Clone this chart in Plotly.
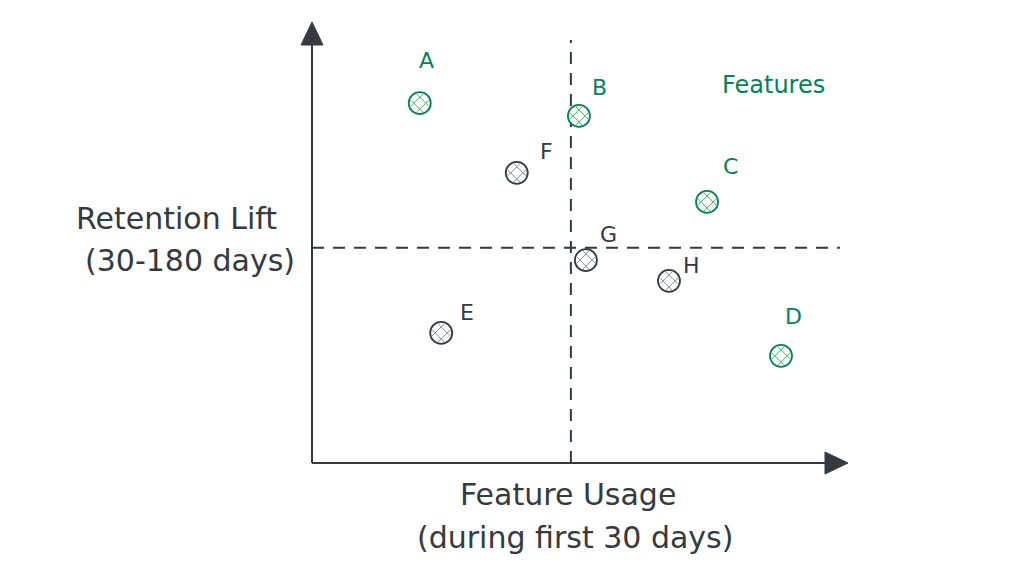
import plotly.graph_objects as go

# %% data (axis units 0-10)
features = ["A", "B", "C", "D", "E", "F", "G", "H"]
usage = [2.01, 4.98, 7.37, 8.75, 2.41, 3.82, 5.11, 6.66]
retention = [8.16, 7.87, 5.92, 2.43, 2.95, 6.58, 4.60, 4.13]
highlighted = [True, True, True, True, False, False, False, False]

usage_split = 4.83
retention_split = 4.88

x_title = ["Feature Usage", "(during first 30 days)"]
y_title = ["Retention Lift", "(30-180 days)"]
legend_text = "Features"

# %% styles
INK = "#343a40"
GREEN = "#087f5b"
GREEN_HATCH = "#40c057"
GRAY_HATCH = "#868e96"
FONT = "DejaVu Sans"

# label offsets in pixels (dx, dy up)
label_offsets = [(7, 43), (21, 28), (23, 35), (12, 39), (26, 20), (30, 21), (23, 26), (23, 15)]

# page has an 8px body margin, so the figure is a bit smaller than the window
PAGE = 8
W, H = 1016, 580
L, R, T, B = 304, 176, 14, 125


def px_to_paper(px, py):
    # screen pixel -> paper fraction of the plot area
    x0, x1 = PAGE + L, PAGE + W - R
    y0, y1 = PAGE + T, PAGE + H - B
    return (px - x0) / (x1 - x0), (y1 - py) / (y1 - y0)


fig = go.Figure()

# quadrant dashed lines
fig.add_trace(go.Scatter(x=[usage_split, usage_split], y=[0, 9.59], mode="lines",
                         line=dict(color=INK, width=2, dash="12px,9px"), hoverinfo="skip"))
fig.add_trace(go.Scatter(x=[0, 9.85], y=[retention_split, retention_split], mode="lines",
                         line=dict(color=INK, width=2, dash="12px,9px"), hoverinfo="skip"))

# points: outlined circle + rotated hash to mimic the hatch fill
for flag, line_c, hatch_c in [(True, GREEN, GREEN_HATCH), (False, INK, GRAY_HATCH)]:
    xs = [u for u, h in zip(usage, highlighted) if h == flag]
    ys = [r for r, h in zip(retention, highlighted) if h == flag]
    fig.add_trace(go.Scatter(x=xs, y=ys, mode="markers",
                             marker=dict(symbol="circle", size=22, color="white",
                                         line=dict(color=line_c, width=1.8)),
                             hoverinfo="skip"))
    fig.add_trace(go.Scatter(x=xs, y=ys, mode="markers",
                             marker=dict(symbol="hash-open", size=17, angle=45, color=hatch_c,
                                         line=dict(color=hatch_c, width=1)),
                             hoverinfo="skip"))

# point labels
for name, u, r, flag, (dx, dy) in zip(features, usage, retention, highlighted, label_offsets):
    fig.add_annotation(x=u, y=r, text=name, showarrow=False, xshift=dx, yshift=dy,
                       font=dict(family=FONT, size=22, color=GREEN if flag else INK))

# axes with arrow heads (paper refs so nothing gets clipped)
fig.add_shape(type="line", xref="paper", yref="paper", x0=0, y0=0, x1=0, y1=0.97,
              line=dict(color=INK, width=2))
fig.add_shape(type="line", xref="paper", yref="paper", x0=0, y0=0, x1=0.97, y1=0,
              line=dict(color=INK, width=2))
fig.add_shape(type="path", xref="paper", yref="paper", xsizemode="pixel", ysizemode="pixel",
              xanchor=0, yanchor=1, path="M -11,-23 L 11,-23 L 0,0 Z",
              fillcolor=INK, line=dict(color=INK, width=1))
fig.add_shape(type="path", xref="paper", yref="paper", xsizemode="pixel", ysizemode="pixel",
              xanchor=1, yanchor=0, path="M -23,-11 L -23,11 L 0,0 Z",
              fillcolor=INK, line=dict(color=INK, width=1))

# titles
for text, (px, py) in zip(y_title, [(176, 218), (190, 260)]):
    x, y = px_to_paper(px, py)
    fig.add_annotation(x=x, y=y, xref="paper", yref="paper", text=text, showarrow=False,
                       xanchor="center", yanchor="middle",
                       font=dict(family=FONT, size=30, color=INK))
for text, (px, py) in zip(x_title, [(568, 495), (575, 537)]):
    x, y = px_to_paper(px, py)
    fig.add_annotation(x=x, y=y, xref="paper", yref="paper", text=text, showarrow=False,
                       xanchor="center", yanchor="middle",
                       font=dict(family=FONT, size=30, color=INK))
x, y = px_to_paper(773, 85)
fig.add_annotation(x=x, y=y, xref="paper", yref="paper", text=legend_text, showarrow=False,
                   xanchor="center", yanchor="middle",
                   font=dict(family=FONT, size=24, color=GREEN))

fig.update_xaxes(range=[0, 10], visible=False)
fig.update_yaxes(range=[0, 10], visible=False)
fig.update_layout(width=W, height=H, margin=dict(l=L, r=R, t=T, b=B),
                  plot_bgcolor="white", paper_bgcolor="white", showlegend=False)

fig.write_html("out.html")
